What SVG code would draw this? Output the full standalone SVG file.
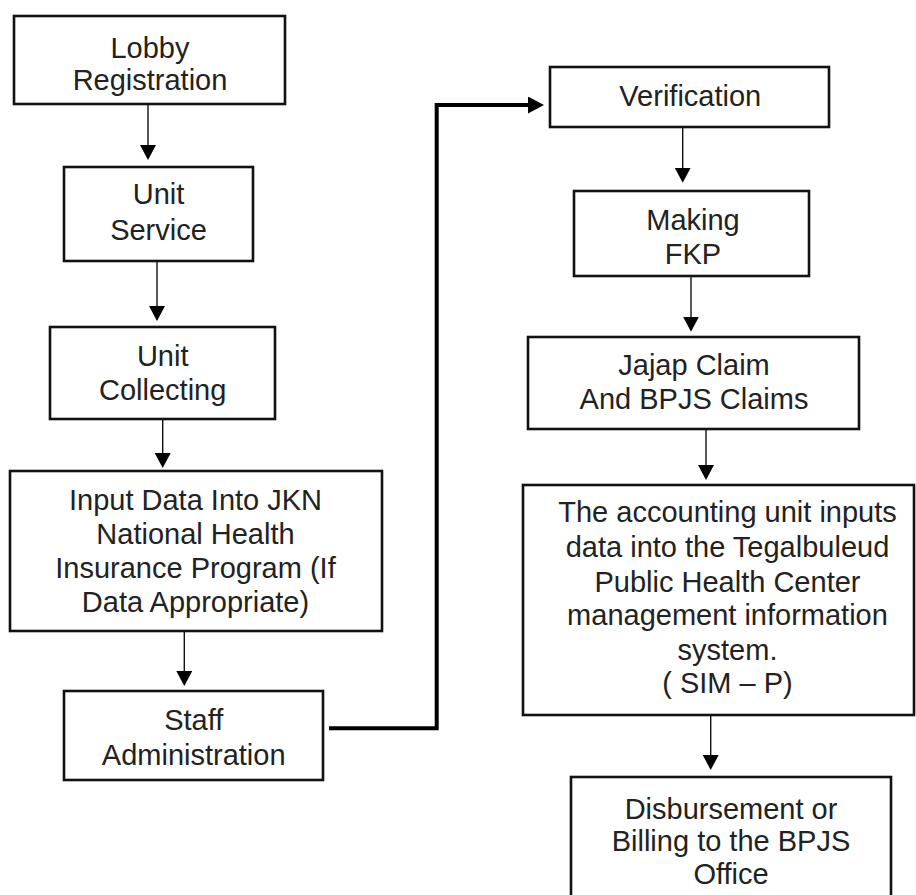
<svg xmlns="http://www.w3.org/2000/svg" width="916" height="895" viewBox="0 0 916 895">
<style>
.box{fill:#fff;stroke:#111;stroke-width:2.6}
.t{font-family:"Liberation Sans",Arial,Helvetica,sans-serif;font-size:29px;fill:#222;text-anchor:middle}
.ar{stroke:#111;stroke-width:1.4;fill:none}
.thick{stroke:#000;stroke-width:4;fill:none}
</style>
<defs>
<marker id="ah" markerUnits="userSpaceOnUse" markerWidth="16" markerHeight="16" refX="10" refY="8" orient="auto">
<path d="M0,0 L15,8 L0,16 z" fill="#000"/>
</marker>
<marker id="ahT" markerUnits="userSpaceOnUse" markerWidth="17" markerHeight="17" refX="8" refY="8.5" orient="auto">
<path d="M0,0 L16,8.5 L0,17 z" fill="#000"/>
</marker>
</defs>
<rect width="916" height="895" fill="#fff"/>

<g id="connectors">
<line class="ar" x1="148" y1="104" x2="148" y2="155" marker-end="url(#ah)"/>
<line class="ar" x1="157" y1="261" x2="157" y2="316" marker-end="url(#ah)"/>
<line class="ar" x1="162.7" y1="413" x2="162.7" y2="463" marker-end="url(#ah)"/>
<line class="ar" x1="184.3" y1="631" x2="184.3" y2="681" marker-end="url(#ah)"/>
<line class="ar" x1="682.7" y1="127" x2="682.7" y2="177.7" marker-end="url(#ah)"/>
<line class="ar" x1="691" y1="276" x2="691" y2="326.7" marker-end="url(#ah)"/>
<line class="ar" x1="706" y1="429" x2="706" y2="475" marker-end="url(#ah)"/>
<line class="ar" x1="710.7" y1="715" x2="710.7" y2="765" marker-end="url(#ah)"/>
<polyline class="thick" points="329,728.3 436.7,728.3 436.7,105 536,105" marker-end="url(#ahT)"/>
</g>

<g id="lobby">
<rect class="box" x="14" y="16" width="271" height="88"/>
<text class="t" x="150" y="57.5">Lobby</text>
<text class="t" x="150" y="89.5">Registration</text>
</g>
<g id="unit-service">
<rect class="box" x="64" y="167" width="189" height="94"/>
<text class="t" x="158.5" y="204">Unit</text>
<text class="t" x="158.5" y="239.5">Service</text>
</g>
<g id="unit-collecting">
<rect class="box" x="50" y="327" width="225" height="92"/>
<text class="t" x="162.7" y="366">Unit</text>
<text class="t" x="162.7" y="400">Collecting</text>
</g>
<g id="input-data">
<rect class="box" x="10" y="471" width="372" height="160"/>
<text class="t" x="195.5" y="510">Input Data Into JKN</text>
<text class="t" x="195.5" y="543.5">National Health</text>
<text class="t" x="195.5" y="577.5">Insurance Program (If</text>
<text class="t" x="195.5" y="611.5">Data Appropriate)</text>
</g>
<g id="staff-admin">
<rect class="box" x="64" y="691" width="259" height="89"/>
<text class="t" x="193.7" y="730">Staff</text>
<text class="t" x="193.7" y="765">Administration</text>
</g>
<g id="verification">
<rect class="box" x="550" y="67" width="279" height="60"/>
<text class="t" x="690.3" y="106">Verification</text>
</g>
<g id="making-fkp">
<rect class="box" x="574" y="191" width="235" height="85"/>
<text class="t" x="693" y="230">Making</text>
<text class="t" x="693" y="264">FKP</text>
</g>
<g id="jajap-claim">
<rect class="box" x="528" y="337" width="331" height="92"/>
<text class="t" x="694" y="375">Jajap Claim</text>
<text class="t" x="694" y="409">And BPJS Claims</text>
</g>
<g id="accounting-unit">
<rect class="box" x="523" y="485" width="391" height="230"/>
<text class="t" x="727.5" y="521.7">The accounting unit inputs</text>
<text class="t" x="727.5" y="557.3">data into the Tegalbuleud</text>
<text class="t" x="727.5" y="591.7">Public Health Center</text>
<text class="t" x="727.5" y="625">management information</text>
<text class="t" x="727.5" y="660">system.</text>
<text class="t" x="727.5" y="693.3">( SIM – P)</text>
</g>
<g id="disbursement">
<rect class="box" x="571" y="777" width="320" height="140"/>
<text class="t" x="731" y="819">Disbursement or</text>
<text class="t" x="731" y="850.5">Billing to the BPJS</text>
<text class="t" x="731" y="884">Office</text>
</g>
</svg>
